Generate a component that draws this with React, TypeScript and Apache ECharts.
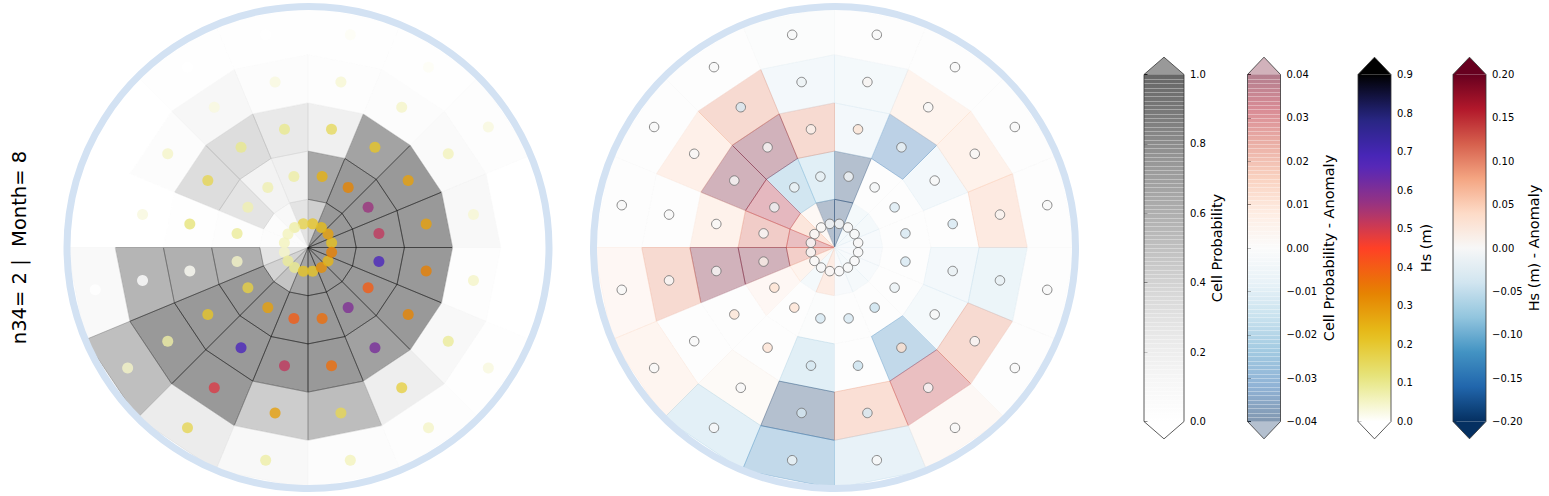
import React, { useEffect, useRef } from "react";
import * as echarts from "echarts";

// Polar layout: 16 direction sectors (sector 0 = 0..22.5 deg, counter-clockwise from east), 5 rings (0 = centre)
const SECTORS = 16;
const RINGS = 5;

// Left panel: cell probability (grey cells) per ring, sectors 0..15
const cellProbability: number[][] = [
  [1.0, 1.0, 1.0, 0.55, 0.38, 0.14, 0.06, 0.06, 0.38, 0.52, 0.65, 0.9, 1.0, 1.0, 1.0, 1.0],
  [1.0, 1.0, 1.0, 0.88, 0.25, 0.2, 0.38, 0.04, 0.82, 1.0, 1.0, 1.0, 1.0, 1.0, 1.0, 1.0],
  [1.0, 1.0, 0.92, 0.25, 0.32, 0.44, 0.44, 0.02, 0.82, 1.0, 1.0, 1.0, 1.0, 0.93, 1.0, 1.0],
  [0.14, 0.1, 0.06, 0.04, 0.06, 0.16, 0.06, 0.01, 0.78, 1.0, 1.0, 0.57, 0.72, 0.27, 0.14, 0.04],
  [0.0, 0.04, 0.02, 0.02, 0.02, 0.02, 0.01, 0.01, 0.12, 0.7, 0.29, 0.14, 0.06, 0.04, 0.02, 0.0],
];

// Left panel: mean Hs (m) per cell (dots)
const hsMean: number[][] = [
  [0.22, 0.28, 0.23, 0.21, 0.17, 0.08, 0.06, 0.06, 0.05, 0.09, 0.1, 0.21, 0.21, 0.31, 0.24, 0.34],
  [0.52, 0.56, 0.33, 0.25, 0.08, 0.07, 0.07, 0.09, 0.05, 0.18, 0.28, 0.4, 0.37, 0.6, 0.4, 0.68],
  [0.28, 0.28, 0.21, 0.15, 0.1, 0.1, 0.16, 0.12, 0.01, 0.21, 0.68, 0.52, 0.37, 0.61, 0.33, 0.34],
  [0.04, 0.06, 0.05, 0.04, 0.03, 0.03, 0.05, 0.03, 0.0, 0.08, 0.49, 0.28, 0.16, 0.18, 0.09, 0.05],
  [0.0, 0.03, 0.01, 0.01, 0.0, 0.0, 0.0, 0.0, 0.0, 0.05, 0.16, 0.08, 0.06, 0.05, 0.03, 0.0],
];

// Right panel: cell probability anomaly (cells)
const cellProbAnomaly: number[][] = [
  [-0.004, -0.006, -0.006, -0.04, -0.04, 0.004, 0.015, 0.03, 0.024, 0.008, -0.006, 0.012, -0.003, -0.005, -0.004, -0.003],
  [0.0, 0.0, 0.0, -0.04, -0.015, -0.02, 0.033, 0.025, 0.04, 0.005, 0.0, -0.001, 0.0, 0.0, 0.0, 0.0],
  [0.0, -0.007, -0.032, -0.007, 0.02, 0.04, 0.04, 0.009, 0.04, 0.0, 0.0, -0.015, 0.0, -0.027, -0.006, -0.007],
  [0.013, 0.009, 0.008, -0.006, -0.007, 0.02, 0.01, 0.0, 0.02, 0.0, 0.003, -0.04, 0.018, 0.03, 0.02, -0.01],
  [0.0, 0.0, 0.0, 0.0, -0.001, 0.0, 0.0, 0.0, 0.005, 0.007, -0.014, -0.027, -0.012, 0.004, 0.0, 0.0],
];

// Right panel: Hs anomaly (m) per cell (dots)
const hsAnomaly: number[][] = [
  [0.002, 0.0, 0.001, 0.0, 0.0, 0.001, 0.0, 0.0, 0.0, 0.0, 0.001, 0.0, 0.0, 0.0, 0.0, 0.0],
  [-0.035, -0.03, -0.005, -0.005, -0.015, -0.012, -0.012, 0.0, 0.012, 0.032, 0.03, -0.035, -0.035, -0.045, -0.015, -0.035],
  [-0.035, 0.0, -0.012, 0.028, 0.01, 0.0, 0.0, 0.0, 0.0, 0.028, 0.03, -0.035, -0.045, 0.035, 0.0, -0.015],
  [0.005, 0.0, 0.0, 0.005, -0.012, -0.035, 0.0, 0.0, 0.0, 0.0, 0.0, -0.035, -0.035, 0.0, 0.0, -0.015],
  [0.0, 0.0, 0.0, 0.0, 0.0, 0.0, 0.0, 0.0, 0.0, 0.0, 0.0, -0.012, 0.0, 0.0, 0.0, 0.0],
];

// Colour bar ranges
const probRange = { min: 0, max: 1, interval: 0.2, digits: 1, label: "Cell Probability" };
const probAnomRange = { min: -0.04, max: 0.04, interval: 0.01, digits: 2, label: "Cell Probability - Anomaly" };
const hsRange = { min: 0, max: 0.9, interval: 0.1, digits: 1, label: "Hs (m)" };
const hsAnomRange = { min: -0.2, max: 0.2, interval: 0.05, digits: 2, label: "Hs (m) - Anomaly" };

const panelTitle = "n34= 2 |\u00a0 Month= 8";

// Colormaps
const GREYS = ["#ffffff", "#f0f0f0", "#d9d9d9", "#bdbdbd", "#969696", "#737373", "#525252", "#252525", "#000000"];
const CMRMAP_R = ["#ffffff", "#e6e680", "#e6bf1a", "#e68000", "#ff4026", "#993380", "#4d26bf", "#262680", "#000000"];
const RDBU_R = ["#053061", "#2166ac", "#4393c3", "#92c5de", "#d1e5f0", "#f7f7f7", "#fddbc7", "#f4a582", "#d6604d", "#b2182b", "#67001f"];

function hexToRgb(h: string): number[] {
  return [parseInt(h.slice(1, 3), 16), parseInt(h.slice(3, 5), 16), parseInt(h.slice(5, 7), 16)];
}
function sample(stops: string[], t: number): number[] {
  const tt = Math.max(0, Math.min(1, t));
  const pos = tt * (stops.length - 1);
  const i = Math.min(stops.length - 2, Math.floor(pos));
  const f = pos - i;
  const a = hexToRgb(stops[i]);
  const b = hexToRgb(stops[i + 1]);
  return [0, 1, 2].map((k) => Math.round(a[k] + (b[k] - a[k]) * f));
}
function rgba(c: number[], a: number): string {
  return `rgba(${c[0]},${c[1]},${c[2]},${a})`;
}

const FONT = "DejaVu Sans";

function cellSeries(polarIndex: number, values: number[][], cmap: string[], vmin: number, vmax: number, fillAlpha: number, edgeAlpha: number) {
  const data: number[][] = [];
  values.forEach((row, ring) => row.forEach((v, s) => data.push([ring, s, v])));
  const step = 360 / SECTORS;
  return {
    type: "custom",
    coordinateSystem: "polar",
    polarIndex,
    silent: true,
    z: 1,
    data,
    renderItem: (_p: any, api: any) => {
      const ring = api.value(0);
      const s = api.value(1);
      const v = api.value(2);
      const a0 = s * step;
      const a1 = (s + 1) * step;
      const pts =
        ring === 0
          ? [api.coord([0, a0]), api.coord([1, a0]), api.coord([1, a1])]
          : [api.coord([ring, a0]), api.coord([ring + 1, a0]), api.coord([ring + 1, a1]), api.coord([ring, a1])];
      const c = sample(cmap, (v - vmin) / (vmax - vmin));
      return {
        type: "polygon",
        shape: { points: pts },
        style: { fill: rgba(c, fillAlpha), stroke: rgba(c, edgeAlpha), lineWidth: 0.9 },
      };
    },
  };
}

function dotSeries(polarIndex: number, values: number[][], cmap: string[], vmin: number, vmax: number, size: number, border: boolean) {
  const step = 360 / SECTORS;
  const data: any[] = [];
  values.forEach((row, ring) =>
    row.forEach((v, s) => {
      data.push({
        value: [ring + 0.5, (s + 0.5) * step],
        itemStyle: {
          color: rgba(sample(cmap, (v - vmin) / (vmax - vmin)), 1),
          borderColor: border ? "#6e6e6e" : undefined,
          borderWidth: border ? 1 : 0,
        },
      });
    })
  );
  return {
    type: "scatter",
    coordinateSystem: "polar",
    polarIndex,
    symbolSize: size,
    silent: true,
    z: 5,
    data,
  };
}

function colorbarSeries(idx: number, cmap: string[], min: number, max: number, bodyAlpha: number, triAlpha: number, stripes: boolean) {
  return {
    type: "custom",
    coordinateSystem: "cartesian2d",
    xAxisIndex: idx,
    yAxisIndex: idx,
    silent: true,
    data: [[0, min]],
    renderItem: (_p: any, api: any) => {
      const tl = api.coord([0, max]);
      const br = api.coord([1, min]);
      const x0 = tl[0], y0 = tl[1], x1 = br[0], y1 = br[1];
      const ext = (y1 - y0) * 0.05;
      const cx = (x0 + x1) / 2;
      const stops: any[] = [];
      const N = 30;
      for (let k = 0; k <= N; k++) {
        stops.push({ offset: k / N, color: rgba(sample(cmap, 1 - k / N), bodyAlpha) });
      }
      const children: any[] = [
        {
          type: "rect",
          shape: { x: x0, y: y0, width: x1 - x0, height: y1 - y0 },
          style: { fill: new echarts.graphic.LinearGradient(0, 0, 0, 1, stops) },
        },
        { type: "polygon", shape: { points: [[x0, y0], [cx, y0 - ext], [x1, y0]] }, style: { fill: rgba(sample(cmap, 1), triAlpha) } },
        { type: "polygon", shape: { points: [[x0, y1], [cx, y1 + ext], [x1, y1]] }, style: { fill: rgba(sample(cmap, 0), triAlpha) } },
      ];
      if (stripes) {
        const M = 80;
        for (let k = 1; k < M; k++) {
          const y = Math.round(y0 + (k * (y1 - y0)) / M) + 0.5;
          children.push({
            type: "line",
            shape: { x1: x0, y1: y, x2: x1, y2: y },
            style: { stroke: "rgba(255,255,255,0.35)", lineWidth: 1 },
          });
        }
      }
      children.push({
        type: "polygon",
        shape: { points: [[x0, y0], [cx, y0 - ext], [x1, y0], [x1, y1], [cx, y1 + ext], [x0, y1]] },
        style: { fill: "none", stroke: "#333", lineWidth: 0.8 },
      });
      return { type: "group", children };
    },
  };
}

function fmt(digits: number) {
  return (v: number) => {
    const s = Math.abs(v) < 1e-9 ? (0).toFixed(digits) : v.toFixed(digits);
    return s.replace("-", "\u2212");
  };
}

export default function App() {
  const ref = useRef<HTMLDivElement>(null);
  useEffect(() => {
    if (!ref.current) return;
    const chart = echarts.init(ref.current, undefined, { renderer: "svg" });

    const polarCenters = [
      [308, 247.5],
      [834.5, 247.5],
    ];
    const bars = [
      { left: 1144, width: 40, range: probRange, gap: 25 },
      { left: 1247.5, width: 33, range: probAnomRange, gap: 36 },
      { left: 1358, width: 33, range: hsRange, gap: 27 },
      { left: 1453, width: 33, range: hsAnomRange, gap: 38 },
    ];

    const option: any = {
      animation: false,
      backgroundColor: "#ffffff",
      polar: polarCenters.map((c) => ({ center: c, radius: 241 })),
      angleAxis: polarCenters.map((_c, i) => ({
        polarIndex: i,
        type: "value",
        min: 0,
        max: 360,
        startAngle: 0,
        clockwise: false,
        z: 10,
        axisLine: { show: true, lineStyle: { color: "#d3e2f3", width: 7 } },
        axisTick: { show: false },
        axisLabel: { show: false },
        splitLine: { show: false },
      })),
      radiusAxis: polarCenters.map((_c, i) => ({
        polarIndex: i,
        type: "value",
        min: 0,
        max: RINGS,
        axisLine: { show: false },
        axisTick: { show: false },
        axisLabel: { show: false },
        splitLine: { show: false },
      })),
      grid: bars.map((b) => ({ left: b.left, width: b.width, top: 74.5, height: 347 })),
      xAxis: bars.map((_b, i) => ({ gridIndex: i, type: "value", min: 0, max: 1, show: false })),
      yAxis: bars.map((b, i) => ({
        gridIndex: i,
        type: "value",
        position: "right",
        min: b.range.min,
        max: b.range.max,
        interval: b.range.interval,
        name: b.range.label,
        nameLocation: "middle",
        nameGap: b.gap,
        nameTextStyle: { fontSize: 14.5, color: "#000", fontFamily: FONT },
        axisLine: { show: false },
        axisTick: { show: true, inside: false, length: 3.5, lineStyle: { color: "#000", width: 0.8 } },
        axisLabel: { fontSize: 10, color: "#000", fontFamily: FONT, margin: 6, formatter: fmt(b.range.digits) },
        splitLine: { show: false },
      })),
      graphic: [
        {
          type: "text",
          x: 19,
          y: 247.5,
          rotation: Math.PI / 2,
          style: {
            text: panelTitle,
            font: `19.5px "${FONT}"`,
            fill: "#000",
            align: "center",
            verticalAlign: "middle",
          },
        },
      ],
      series: [
        cellSeries(0, cellProbability, GREYS, probRange.min, probRange.max, 0.4, 0.4),
        dotSeries(0, hsMean, CMRMAP_R, hsRange.min, hsRange.max, 11, false),
        cellSeries(1, cellProbAnomaly, RDBU_R, probAnomRange.min, probAnomRange.max, 0.3, 0.35),
        dotSeries(1, hsAnomaly, RDBU_R, hsAnomRange.min, hsAnomRange.max, 9.5, true),
        colorbarSeries(0, GREYS, probRange.min, probRange.max, 0.6, 0.4, true),
        colorbarSeries(1, RDBU_R, probAnomRange.min, probAnomRange.max, 0.5, 0.3, true),
        colorbarSeries(2, CMRMAP_R, hsRange.min, hsRange.max, 1, 1, false),
        colorbarSeries(3, RDBU_R, hsAnomRange.min, hsAnomRange.max, 1, 1, false),
      ],
    };
    chart.setOption(option);
    return () => chart.dispose();
  }, []);
  return <div ref={ref} style={{ position: "absolute", left: 0, top: 0, width: 1549, height: 496 }} />;
}
